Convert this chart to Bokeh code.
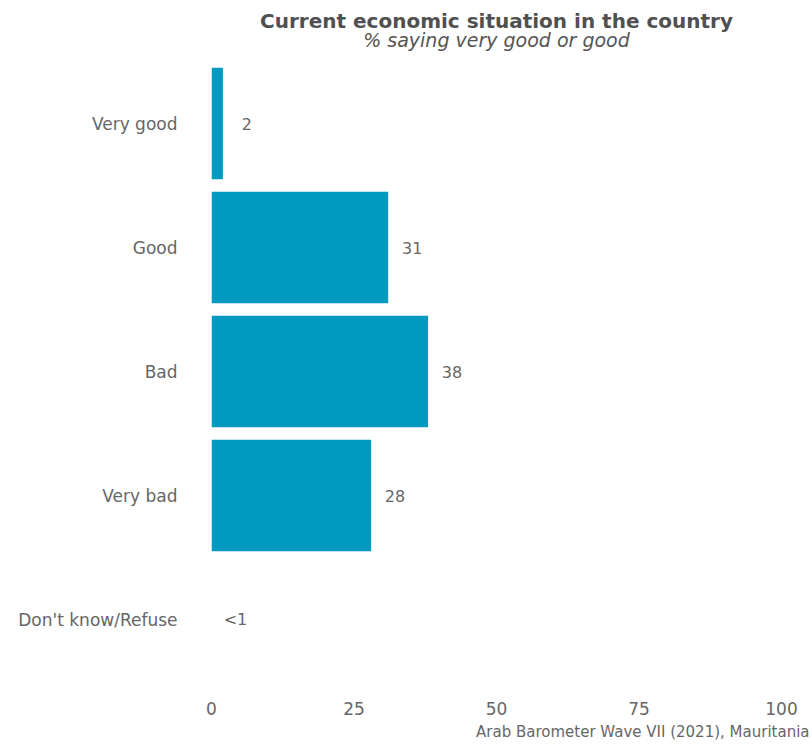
from bokeh.plotting import figure
from bokeh.models import Range1d, Label, Title, ColumnDataSource, FixedTicker
from bokeh.core.properties import value
from bokeh.embed import file_html
from bokeh.resources import INLINE

categories = ["Very good", "Good", "Bad", "Very bad", "Don't know/Refuse"]
percent = [2, 31, 38, 28, 0]
value_labels = ["2", "31", "38", "28", "<1"]
x_ticks = [0, 25, 50, 75, 100]

title_text = "Current economic situation in the country"
subtitle_text = "% saying very good or good"
caption_text = "Arab Barometer Wave VII (2021), Mauritania"

FONT = "DejaVu Sans"
BAR = "#0099C0"
TXT = "#666666"

n = len(categories)
ypos = [n - 1 - i for i in range(n)]
label_nudge = 4.2
label_x = [v + label_nudge for v in percent]

src = ColumnDataSource(dict(y=ypos, val=percent, lab=value_labels, lx=label_x))

FRAME_W, FRAME_H = 570, 681
BAND = 124.0
p = figure(width=812, height=748, output_backend="svg", toolbar_location=None,
           y_range=Range1d(-0.5, -0.5 + FRAME_H / BAND),
           x_range=Range1d(0, 100),
           min_border_left=211, min_border_right=31, min_border_top=0, min_border_bottom=67)

p.hbar(y="y", right="val", left=0, height=0.9, source=src, color=BAR, line_color=None)
p.text(x="lx", y="y", text="lab", source=src, text_align="center", text_baseline="middle",
       text_font=value(FONT), text_font_size="16px", text_color=TXT)

for ax in (p.xaxis[0], p.yaxis[0]):
    ax.axis_line_color = None
    ax.major_tick_line_color = None
    ax.minor_tick_line_color = None
    ax.major_tick_out = 0
    ax.major_tick_in = 0
    ax.major_label_text_font = FONT
    ax.major_label_text_font_size = "17px"
    ax.major_label_text_color = TXT
p.xaxis.ticker = FixedTicker(ticks=x_ticks)
p.yaxis.ticker = FixedTicker(ticks=ypos)
p.yaxis.major_label_overrides = {yy: c for yy, c in zip(ypos, categories)}
p.xaxis.major_label_standoff = 20
p.yaxis.major_label_standoff = 34
p.xgrid.grid_line_color = None
p.ygrid.grid_line_color = None
p.outline_line_color = None
p.background_fill_color = "white"
p.border_fill_color = "white"

p.add_layout(Label(x=FRAME_W / 2, y=FRAME_H - 20, x_units="screen", y_units="screen",
                   text=title_text, text_align="center", text_baseline="middle",
                   text_font=FONT, text_font_size="20px", text_font_style="bold",
                   text_color="#505050"))
p.add_layout(Label(x=FRAME_W / 2, y=FRAME_H - 39, x_units="screen", y_units="screen",
                   text=subtitle_text, text_align="center", text_baseline="middle",
                   text_font=FONT, text_font_size="19px", text_font_style="italic",
                   text_color="#555555"))
p.add_layout(Title(text=caption_text, align="right", offset=-28, standoff=6,
                   text_font=FONT, text_font_size="15px", text_font_style="normal",
                   text_color=TXT), "below")

open("out.html", "w").write(file_html(p, INLINE))
